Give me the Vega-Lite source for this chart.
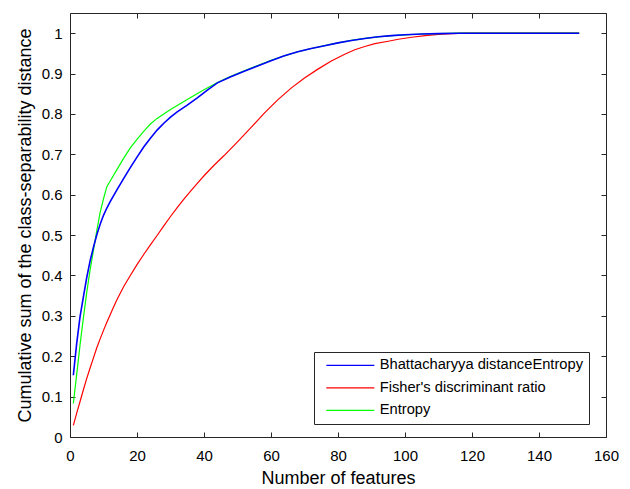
{
  "$schema": "https://vega.github.io/schema/vega-lite/v6.json",
  "width": 536,
  "height": 424,
  "autosize": {"type": "none"},
  "padding": {"left": 70, "top": 13, "right": 24, "bottom": 52},
  "background": "white",
  "config": {
    "view": {"stroke": null},
    "font": "Liberation Sans",
    "axis": {
      "grid": false,
      "domainColor": "#262626",
      "domainWidth": 1,
      "tickColor": "#262626",
      "tickWidth": 1,
      "tickSize": -5,
      "labelColor": "#000000",
      "labelFontSize": 15,
      "labelFont": "Liberation Sans",
      "labelFlush": false,
      "labelOverlap": false,
      "titleColor": "#000000",
      "titleFont": "Liberation Sans",
      "titleFontSize": 18,
      "titleFontWeight": "normal"
    }
  },
  "datasets": {
    "curves": [
      {"series": "Bhattacharyya distanceEntropy", "x": 1, "y": 0.153},
      {"series": "Bhattacharyya distanceEntropy", "x": 2, "y": 0.232},
      {"series": "Bhattacharyya distanceEntropy", "x": 3, "y": 0.298},
      {"series": "Bhattacharyya distanceEntropy", "x": 4, "y": 0.347},
      {"series": "Bhattacharyya distanceEntropy", "x": 5, "y": 0.395},
      {"series": "Bhattacharyya distanceEntropy", "x": 6, "y": 0.436},
      {"series": "Bhattacharyya distanceEntropy", "x": 7, "y": 0.47},
      {"series": "Bhattacharyya distanceEntropy", "x": 8, "y": 0.501},
      {"series": "Bhattacharyya distanceEntropy", "x": 9, "y": 0.527},
      {"series": "Bhattacharyya distanceEntropy", "x": 10, "y": 0.549},
      {"series": "Bhattacharyya distanceEntropy", "x": 11, "y": 0.567},
      {"series": "Bhattacharyya distanceEntropy", "x": 12, "y": 0.583},
      {"series": "Bhattacharyya distanceEntropy", "x": 14, "y": 0.612},
      {"series": "Bhattacharyya distanceEntropy", "x": 16, "y": 0.64},
      {"series": "Bhattacharyya distanceEntropy", "x": 18, "y": 0.667},
      {"series": "Bhattacharyya distanceEntropy", "x": 20, "y": 0.693},
      {"series": "Bhattacharyya distanceEntropy", "x": 22, "y": 0.718},
      {"series": "Bhattacharyya distanceEntropy", "x": 24, "y": 0.74},
      {"series": "Bhattacharyya distanceEntropy", "x": 26, "y": 0.76},
      {"series": "Bhattacharyya distanceEntropy", "x": 28, "y": 0.777},
      {"series": "Bhattacharyya distanceEntropy", "x": 30, "y": 0.792},
      {"series": "Bhattacharyya distanceEntropy", "x": 32, "y": 0.805},
      {"series": "Bhattacharyya distanceEntropy", "x": 35, "y": 0.822},
      {"series": "Bhattacharyya distanceEntropy", "x": 38, "y": 0.84},
      {"series": "Bhattacharyya distanceEntropy", "x": 41, "y": 0.859},
      {"series": "Bhattacharyya distanceEntropy", "x": 44, "y": 0.877},
      {"series": "Bhattacharyya distanceEntropy", "x": 48, "y": 0.892},
      {"series": "Bhattacharyya distanceEntropy", "x": 52, "y": 0.906},
      {"series": "Bhattacharyya distanceEntropy", "x": 56, "y": 0.919},
      {"series": "Bhattacharyya distanceEntropy", "x": 60, "y": 0.932},
      {"series": "Bhattacharyya distanceEntropy", "x": 64, "y": 0.944},
      {"series": "Bhattacharyya distanceEntropy", "x": 68, "y": 0.954},
      {"series": "Bhattacharyya distanceEntropy", "x": 72, "y": 0.962},
      {"series": "Bhattacharyya distanceEntropy", "x": 76, "y": 0.969},
      {"series": "Bhattacharyya distanceEntropy", "x": 80, "y": 0.976},
      {"series": "Bhattacharyya distanceEntropy", "x": 84, "y": 0.982},
      {"series": "Bhattacharyya distanceEntropy", "x": 88, "y": 0.987},
      {"series": "Bhattacharyya distanceEntropy", "x": 92, "y": 0.991},
      {"series": "Bhattacharyya distanceEntropy", "x": 96, "y": 0.994},
      {"series": "Bhattacharyya distanceEntropy", "x": 100, "y": 0.996},
      {"series": "Bhattacharyya distanceEntropy", "x": 105, "y": 0.998},
      {"series": "Bhattacharyya distanceEntropy", "x": 110, "y": 0.999},
      {"series": "Bhattacharyya distanceEntropy", "x": 116, "y": 1},
      {"series": "Bhattacharyya distanceEntropy", "x": 130, "y": 1},
      {"series": "Bhattacharyya distanceEntropy", "x": 152, "y": 1},

      {"series": "Fisher's discriminant ratio", "x": 1, "y": 0.029},
      {"series": "Fisher's discriminant ratio", "x": 2, "y": 0.059},
      {"series": "Fisher's discriminant ratio", "x": 3, "y": 0.088},
      {"series": "Fisher's discriminant ratio", "x": 4, "y": 0.117},
      {"series": "Fisher's discriminant ratio", "x": 5, "y": 0.145},
      {"series": "Fisher's discriminant ratio", "x": 6, "y": 0.171},
      {"series": "Fisher's discriminant ratio", "x": 7, "y": 0.196},
      {"series": "Fisher's discriminant ratio", "x": 8, "y": 0.221},
      {"series": "Fisher's discriminant ratio", "x": 9, "y": 0.243},
      {"series": "Fisher's discriminant ratio", "x": 10, "y": 0.264},
      {"series": "Fisher's discriminant ratio", "x": 11, "y": 0.284},
      {"series": "Fisher's discriminant ratio", "x": 12, "y": 0.303},
      {"series": "Fisher's discriminant ratio", "x": 13, "y": 0.322},
      {"series": "Fisher's discriminant ratio", "x": 14, "y": 0.34},
      {"series": "Fisher's discriminant ratio", "x": 16, "y": 0.372},
      {"series": "Fisher's discriminant ratio", "x": 18, "y": 0.4},
      {"series": "Fisher's discriminant ratio", "x": 20, "y": 0.427},
      {"series": "Fisher's discriminant ratio", "x": 22, "y": 0.452},
      {"series": "Fisher's discriminant ratio", "x": 24, "y": 0.476},
      {"series": "Fisher's discriminant ratio", "x": 26, "y": 0.499},
      {"series": "Fisher's discriminant ratio", "x": 28, "y": 0.523},
      {"series": "Fisher's discriminant ratio", "x": 30, "y": 0.546},
      {"series": "Fisher's discriminant ratio", "x": 32, "y": 0.568},
      {"series": "Fisher's discriminant ratio", "x": 34, "y": 0.589},
      {"series": "Fisher's discriminant ratio", "x": 36, "y": 0.609},
      {"series": "Fisher's discriminant ratio", "x": 38, "y": 0.628},
      {"series": "Fisher's discriminant ratio", "x": 40, "y": 0.647},
      {"series": "Fisher's discriminant ratio", "x": 43, "y": 0.673},
      {"series": "Fisher's discriminant ratio", "x": 46, "y": 0.697},
      {"series": "Fisher's discriminant ratio", "x": 50, "y": 0.731},
      {"series": "Fisher's discriminant ratio", "x": 54, "y": 0.766},
      {"series": "Fisher's discriminant ratio", "x": 58, "y": 0.802},
      {"series": "Fisher's discriminant ratio", "x": 62, "y": 0.835},
      {"series": "Fisher's discriminant ratio", "x": 66, "y": 0.864},
      {"series": "Fisher's discriminant ratio", "x": 70, "y": 0.889},
      {"series": "Fisher's discriminant ratio", "x": 74, "y": 0.911},
      {"series": "Fisher's discriminant ratio", "x": 78, "y": 0.931},
      {"series": "Fisher's discriminant ratio", "x": 82, "y": 0.948},
      {"series": "Fisher's discriminant ratio", "x": 85, "y": 0.959},
      {"series": "Fisher's discriminant ratio", "x": 88, "y": 0.967},
      {"series": "Fisher's discriminant ratio", "x": 91, "y": 0.974},
      {"series": "Fisher's discriminant ratio", "x": 95, "y": 0.98},
      {"series": "Fisher's discriminant ratio", "x": 98, "y": 0.985},
      {"series": "Fisher's discriminant ratio", "x": 102, "y": 0.99},
      {"series": "Fisher's discriminant ratio", "x": 106, "y": 0.994},
      {"series": "Fisher's discriminant ratio", "x": 110, "y": 0.997},
      {"series": "Fisher's discriminant ratio", "x": 114, "y": 0.999},
      {"series": "Fisher's discriminant ratio", "x": 118, "y": 1},
      {"series": "Fisher's discriminant ratio", "x": 152, "y": 1},

      {"series": "Entropy", "x": 1, "y": 0.083},
      {"series": "Entropy", "x": 2, "y": 0.155},
      {"series": "Entropy", "x": 3, "y": 0.228},
      {"series": "Entropy", "x": 4, "y": 0.295},
      {"series": "Entropy", "x": 5, "y": 0.358},
      {"series": "Entropy", "x": 6, "y": 0.414},
      {"series": "Entropy", "x": 7, "y": 0.462},
      {"series": "Entropy", "x": 8, "y": 0.511},
      {"series": "Entropy", "x": 9, "y": 0.556},
      {"series": "Entropy", "x": 10, "y": 0.59},
      {"series": "Entropy", "x": 11, "y": 0.62},
      {"series": "Entropy", "x": 12, "y": 0.634},
      {"series": "Entropy", "x": 14, "y": 0.662},
      {"series": "Entropy", "x": 16, "y": 0.69},
      {"series": "Entropy", "x": 18, "y": 0.716},
      {"series": "Entropy", "x": 20, "y": 0.737},
      {"series": "Entropy", "x": 22, "y": 0.757},
      {"series": "Entropy", "x": 24, "y": 0.775},
      {"series": "Entropy", "x": 26, "y": 0.789},
      {"series": "Entropy", "x": 28, "y": 0.8},
      {"series": "Entropy", "x": 30, "y": 0.811},
      {"series": "Entropy", "x": 33, "y": 0.826},
      {"series": "Entropy", "x": 36, "y": 0.841},
      {"series": "Entropy", "x": 40, "y": 0.86},
      {"series": "Entropy", "x": 44, "y": 0.878},
      {"series": "Entropy", "x": 48, "y": 0.893},
      {"series": "Entropy", "x": 52, "y": 0.907},
      {"series": "Entropy", "x": 56, "y": 0.92},
      {"series": "Entropy", "x": 60, "y": 0.933},
      {"series": "Entropy", "x": 64, "y": 0.944},
      {"series": "Entropy", "x": 68, "y": 0.954},
      {"series": "Entropy", "x": 72, "y": 0.962},
      {"series": "Entropy", "x": 76, "y": 0.969},
      {"series": "Entropy", "x": 80, "y": 0.976},
      {"series": "Entropy", "x": 84, "y": 0.982},
      {"series": "Entropy", "x": 88, "y": 0.987},
      {"series": "Entropy", "x": 92, "y": 0.991},
      {"series": "Entropy", "x": 96, "y": 0.994},
      {"series": "Entropy", "x": 100, "y": 0.996},
      {"series": "Entropy", "x": 105, "y": 0.998},
      {"series": "Entropy", "x": 110, "y": 0.999},
      {"series": "Entropy", "x": 116, "y": 1},
      {"series": "Entropy", "x": 152, "y": 1}
    ]
  },
  "data": {"name": "curves"},
  "layer": [
    {
      "transform": [{"filter": {"field": "series", "equal": "Fisher's discriminant ratio"}}],
      "mark": {"type": "line", "strokeWidth": 1.2},
      "encoding": {
        "x": {"field": "x", "type": "quantitative", "scale": {"domain": [0, 160], "nice": false, "zero": false},
              "axis": {"orient": "bottom", "values": [0, 20, 40, 60, 80, 100, 120, 140, 160], "labelPadding": 16, "title": "Number of features", "titlePadding": 6}},
        "y": {"field": "y", "type": "quantitative", "scale": {"domain": [0, 1.05], "nice": false, "zero": false},
              "axis": {"orient": "left", "values": [0, 0.1, 0.2, 0.3, 0.4, 0.5, 0.6, 0.7, 0.8, 0.9, 1], "format": "~g", "labelPadding": 13, "title": "Cumulative sum of the class-separability distance", "titlePadding": 7}},
        "color": {"field": "series", "type": "nominal",
                  "scale": {"domain": ["Bhattacharyya distanceEntropy", "Fisher's discriminant ratio", "Entropy"], "range": ["#0000ff", "#ff0000", "#00ff00"]},
                  "legend": {"orient": "none", "legendX": 244, "legendY": 339, "title": null, "symbolType": "M-4,0L4,0", "symbolSize": 144, "symbolStrokeWidth": 1.3, "symbolOffset": 23, "labelOffset": 22, "labelFontSize": 14.7, "labelFont": "Liberation Sans", "labelColor": "#000000", "labelLimit": 400, "padding": 6, "rowPadding": 6.5, "strokeColor": "#262626", "fillColor": "#ffffff", "cornerRadius": 0}}
      }
    },
    {
      "transform": [{"filter": {"field": "series", "equal": "Entropy"}}],
      "mark": {"type": "line", "strokeWidth": 1.2},
      "encoding": {
        "x": {"field": "x", "type": "quantitative", "scale": {"domain": [0, 160], "nice": false, "zero": false}, "axis": null},
        "y": {"field": "y", "type": "quantitative", "scale": {"domain": [0, 1.05], "nice": false, "zero": false}, "axis": null},
        "color": {"field": "series", "type": "nominal",
                  "scale": {"domain": ["Bhattacharyya distanceEntropy", "Fisher's discriminant ratio", "Entropy"], "range": ["#0000ff", "#ff0000", "#00ff00"]}}
      }
    },
    {
      "transform": [{"filter": {"field": "series", "equal": "Bhattacharyya distanceEntropy"}}],
      "mark": {"type": "line", "strokeWidth": 1.6},
      "encoding": {
        "x": {"field": "x", "type": "quantitative", "scale": {"domain": [0, 160], "nice": false, "zero": false}, "axis": null},
        "y": {"field": "y", "type": "quantitative", "scale": {"domain": [0, 1.05], "nice": false, "zero": false}, "axis": null},
        "color": {"field": "series", "type": "nominal",
                  "scale": {"domain": ["Bhattacharyya distanceEntropy", "Fisher's discriminant ratio", "Entropy"], "range": ["#0000ff", "#ff0000", "#00ff00"]}}
      }
    },
    {
      "mark": {"type": "line", "opacity": 0},
      "encoding": {
        "x": {"field": "x", "type": "quantitative", "scale": {"domain": [0, 160], "nice": false, "zero": false},
              "axis": {"orient": "top", "values": [0, 20, 40, 60, 80, 100, 120, 140, 160], "labels": false, "title": null}},
        "y": {"field": "y", "type": "quantitative", "scale": {"domain": [0, 1.05], "nice": false, "zero": false},
              "axis": {"orient": "right", "values": [0, 0.1, 0.2, 0.3, 0.4, 0.5, 0.6, 0.7, 0.8, 0.9, 1], "labels": false, "title": null}},
        "detail": {"field": "series"}
      }
    }
  ],
  "resolve": {"axis": {"x": "independent", "y": "independent"}}
}
